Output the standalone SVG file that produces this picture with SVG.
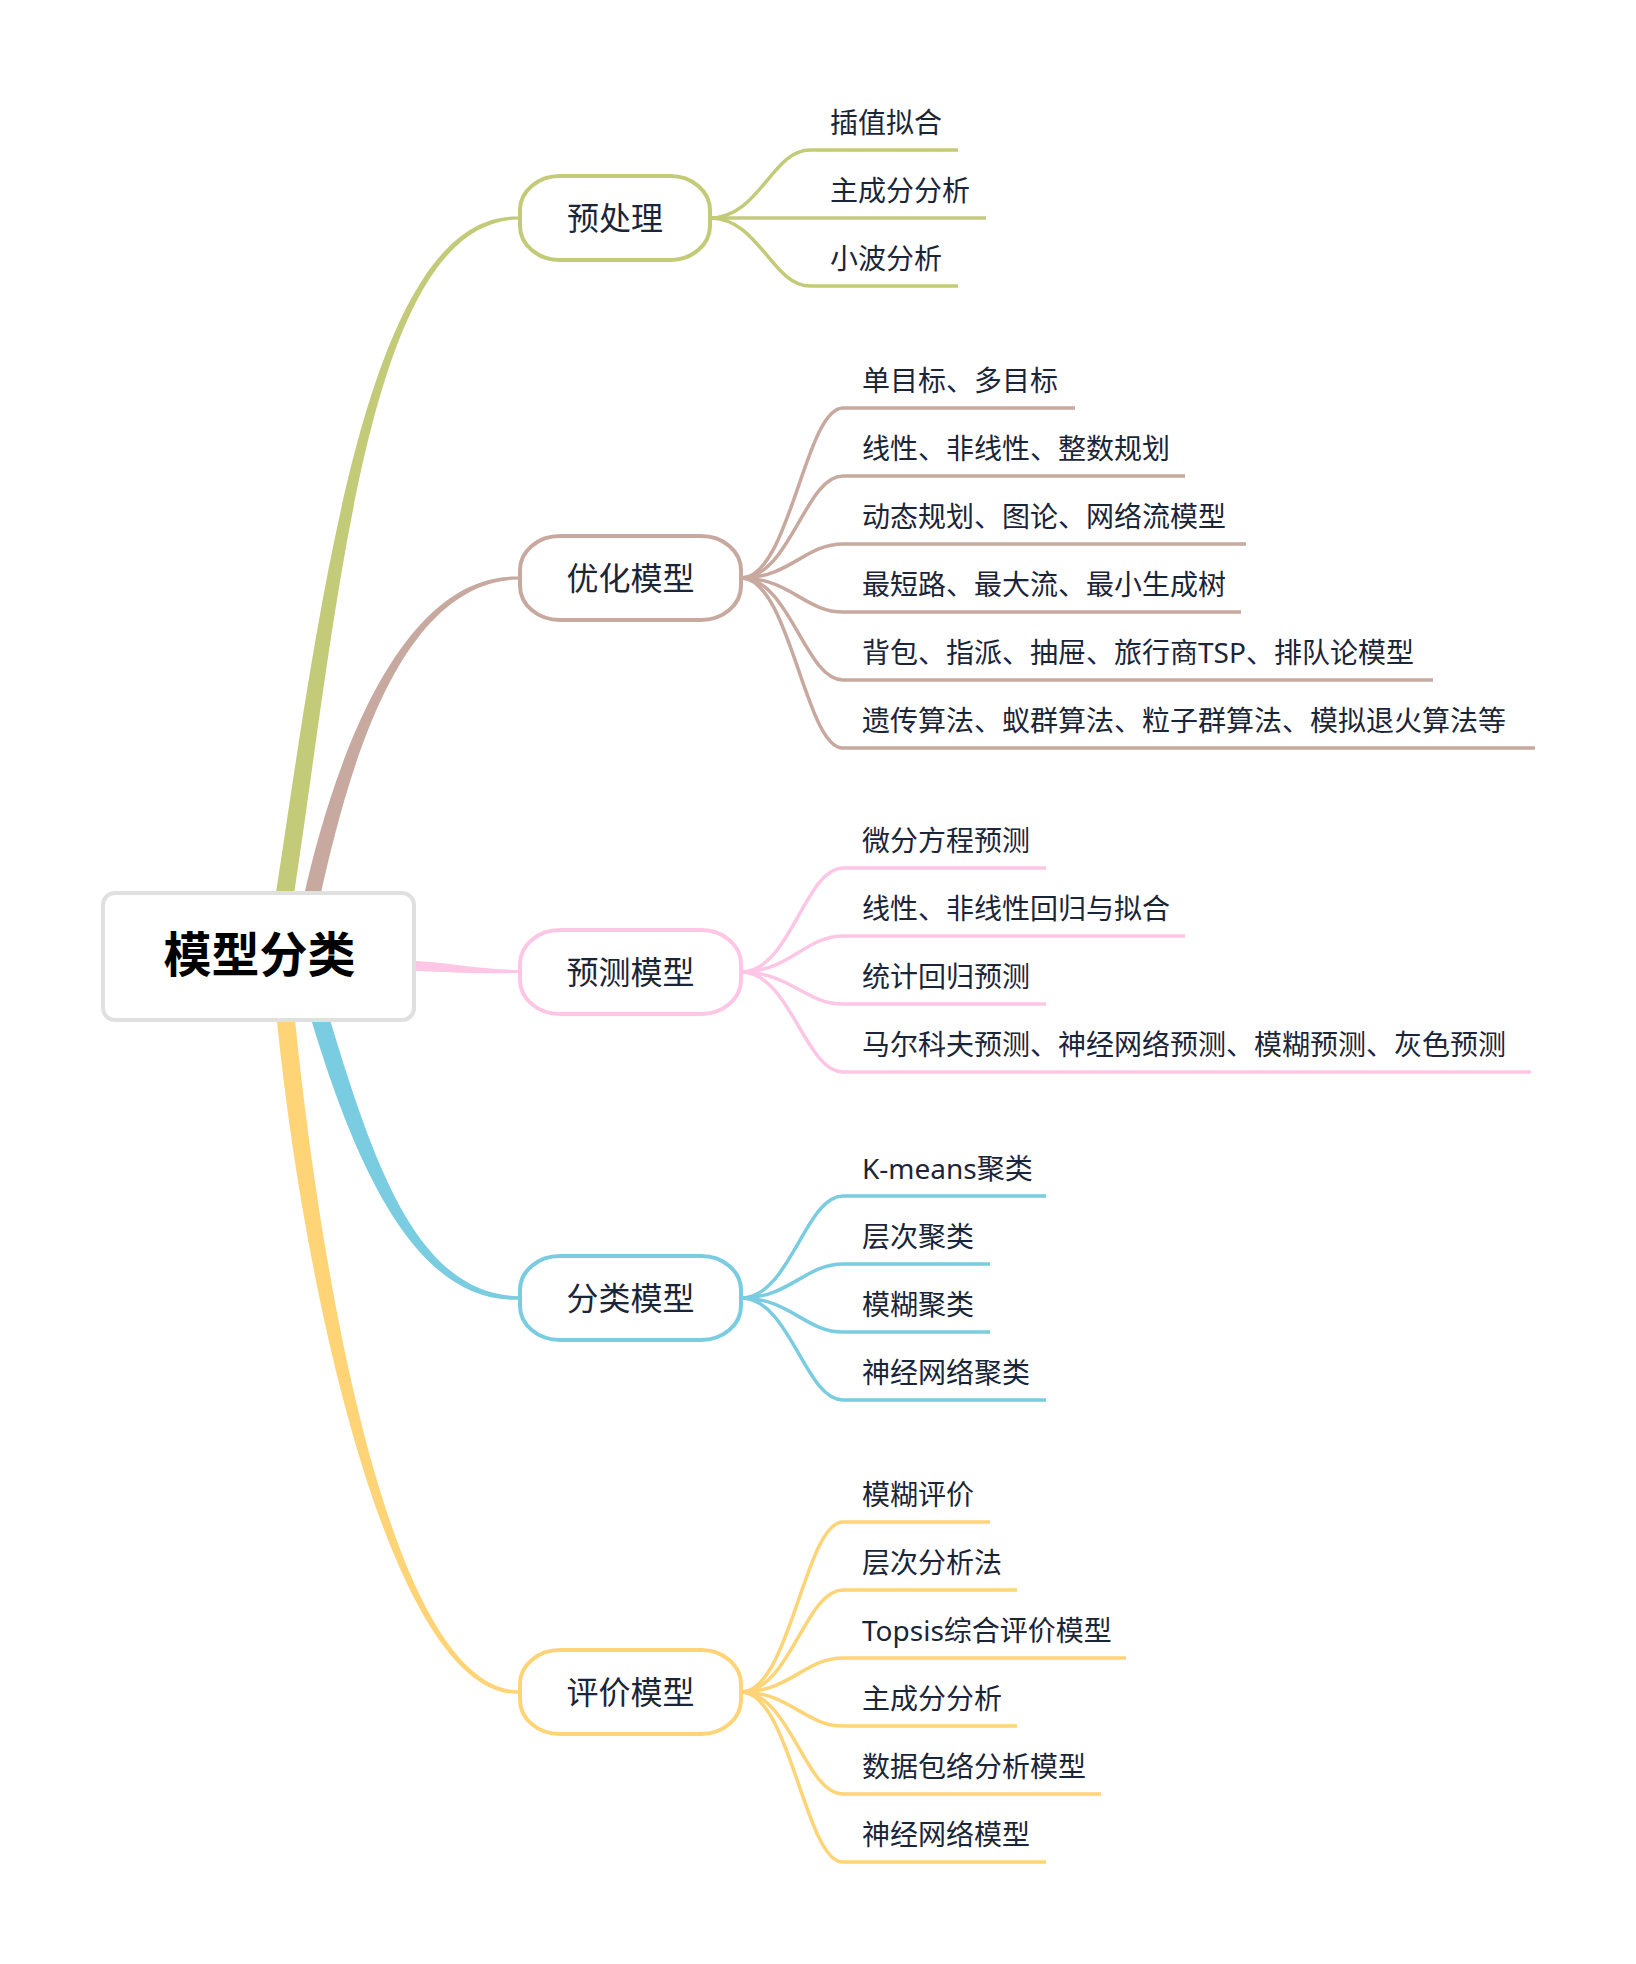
<svg xmlns="http://www.w3.org/2000/svg" width="1636" height="1964" viewBox="0 0 1636 1964">
<style>
text{font-family:"Noto Sans","Noto Sans CJK SC",sans-serif;fill:#1b2538}
.l2{font-size:28px}
.l1{font-size:32px;text-anchor:middle}
.root{font-size:48px;font-weight:700;fill:#000;text-anchor:middle}
.sub{fill:none;stroke-width:3.5}
.pill{fill:#fff;stroke-width:4}
.g{stroke:#c3ca78}.b{stroke:#c8a9a0}.p{stroke:#fdc6e5}.c{stroke:#7acce0}.y{stroke:#fed477}
</style>
<rect width="1636" height="1964" fill="#fff"/>
<g id="connectors">
<path fill="#c3ca78" d="M292.9 901.4C339.9 593.4 368 223 518 219.4L518 216.6C368 213 322.1 590.6 275.1 898.6Z"/>
<path fill="#c8a9a0" d="M319 901.7C347.2 773.7 398 582.5 518 579.4L518 576.6C398 573.5 331.6 770.3 303.4 898.3Z"/>
<path fill="#fdc6e5" d="M405 960.5C450 962 470 968.8 518 970L518 973C470 974.2 450 972 405 970.5Z"/>
<path fill="#7acce0" d="M327.2 1010.4C374.6 1168.4 418 1293 518 1296.3L518 1299.7C418 1303 357.4 1173.6 310 1015.6Z"/>
<path fill="#fed477" d="M294.2 1012.1C325 1320.1 398 1687 518 1690.3L518 1693.7C398 1697 307 1321.9 276.2 1013.9Z"/>
<g class="sub g">
<path d="M710 218C759 218 772 150 810 150H958"/>
<path d="M710 218H986"/>
<path d="M710 218C759 218 772 286 810 286H958"/>
</g>
<g class="sub b">
<path d="M741 578C790 578 805 408 843 408H1075"/>
<path d="M741 578C790 578 805 476 843 476H1185"/>
<path d="M741 578C790 578 805 544 843 544H1246"/>
<path d="M741 578C790 578 805 612 843 612H1241"/>
<path d="M741 578C790 578 805 680 843 680H1433"/>
<path d="M741 578C790 578 805 748 843 748H1535"/>
</g>
<g class="sub p">
<path d="M741 972C790 972 805 868 843 868H1046"/>
<path d="M741 972C790 972 805 936 843 936H1185"/>
<path d="M741 972C790 972 805 1004 843 1004H1046"/>
<path d="M741 972C790 972 805 1072 843 1072H1531"/>
</g>
<g class="sub c">
<path d="M741 1298C790 1298 805 1196 843 1196H1046"/>
<path d="M741 1298C790 1298 805 1264 843 1264H990"/>
<path d="M741 1298C790 1298 805 1332 843 1332H990"/>
<path d="M741 1298C790 1298 805 1400 843 1400H1046"/>
</g>
<g class="sub y">
<path d="M741 1692C790 1692 805 1522 843 1522H990"/>
<path d="M741 1692C790 1692 805 1590 843 1590H1017"/>
<path d="M741 1692C790 1692 805 1658 843 1658H1126"/>
<path d="M741 1692C790 1692 805 1726 843 1726H1017"/>
<path d="M741 1692C790 1692 805 1794 843 1794H1101"/>
<path d="M741 1692C790 1692 805 1862 843 1862H1046"/>
</g>
</g>
<g id="root">
<rect x="103" y="893" width="311" height="127" rx="12" fill="#fff" stroke="#e0e0e0" stroke-width="4"/>
<text class="root" x="259.5" y="972">模型分类</text>
</g>
<g id="n-preprocess">
<rect class="pill g" x="520" y="176" width="190" height="84" rx="40" ry="34"/>
<text class="l1" x="615" y="230">预处理</text>
</g>
<g id="n-preprocess-children">
<text class="l2" x="830" y="133">插值拟合</text>
<text class="l2" x="830" y="201">主成分分析</text>
<text class="l2" x="830" y="269">小波分析</text>
</g>
<g id="n-optimize">
<rect class="pill b" x="520" y="536" width="221" height="84" rx="40" ry="34"/>
<text class="l1" x="630.5" y="590">优化模型</text>
</g>
<g id="n-optimize-children">
<text class="l2" x="862" y="391">单目标、多目标</text>
<text class="l2" x="862" y="459">线性、非线性、整数规划</text>
<text class="l2" x="862" y="527">动态规划、图论、网络流模型</text>
<text class="l2" x="862" y="595">最短路、最大流、最小生成树</text>
<text class="l2" x="862" y="663">背包、指派、抽屉、旅行商TSP、排队论模型</text>
<text class="l2" x="862" y="731">遗传算法、蚁群算法、粒子群算法、模拟退火算法等</text>
</g>
<g id="n-predict">
<rect class="pill p" x="520" y="930" width="221" height="84" rx="40" ry="34"/>
<text class="l1" x="630.5" y="984">预测模型</text>
</g>
<g id="n-predict-children">
<text class="l2" x="862" y="851">微分方程预测</text>
<text class="l2" x="862" y="919">线性、非线性回归与拟合</text>
<text class="l2" x="862" y="987">统计回归预测</text>
<text class="l2" x="862" y="1055">马尔科夫预测、神经网络预测、模糊预测、灰色预测</text>
</g>
<g id="n-classify">
<rect class="pill c" x="520" y="1256" width="221" height="84" rx="40" ry="34"/>
<text class="l1" x="630.5" y="1310">分类模型</text>
</g>
<g id="n-classify-children">
<text class="l2" x="862" y="1179">K-means聚类</text>
<text class="l2" x="862" y="1247">层次聚类</text>
<text class="l2" x="862" y="1315">模糊聚类</text>
<text class="l2" x="862" y="1383">神经网络聚类</text>
</g>
<g id="n-evaluate">
<rect class="pill y" x="520" y="1650" width="221" height="84" rx="40" ry="34"/>
<text class="l1" x="630.5" y="1704">评价模型</text>
</g>
<g id="n-evaluate-children">
<text class="l2" x="862" y="1505">模糊评价</text>
<text class="l2" x="862" y="1573">层次分析法</text>
<text class="l2" x="862" y="1641">Topsis综合评价模型</text>
<text class="l2" x="862" y="1709">主成分分析</text>
<text class="l2" x="862" y="1777">数据包络分析模型</text>
<text class="l2" x="862" y="1845">神经网络模型</text>
</g>
</svg>
